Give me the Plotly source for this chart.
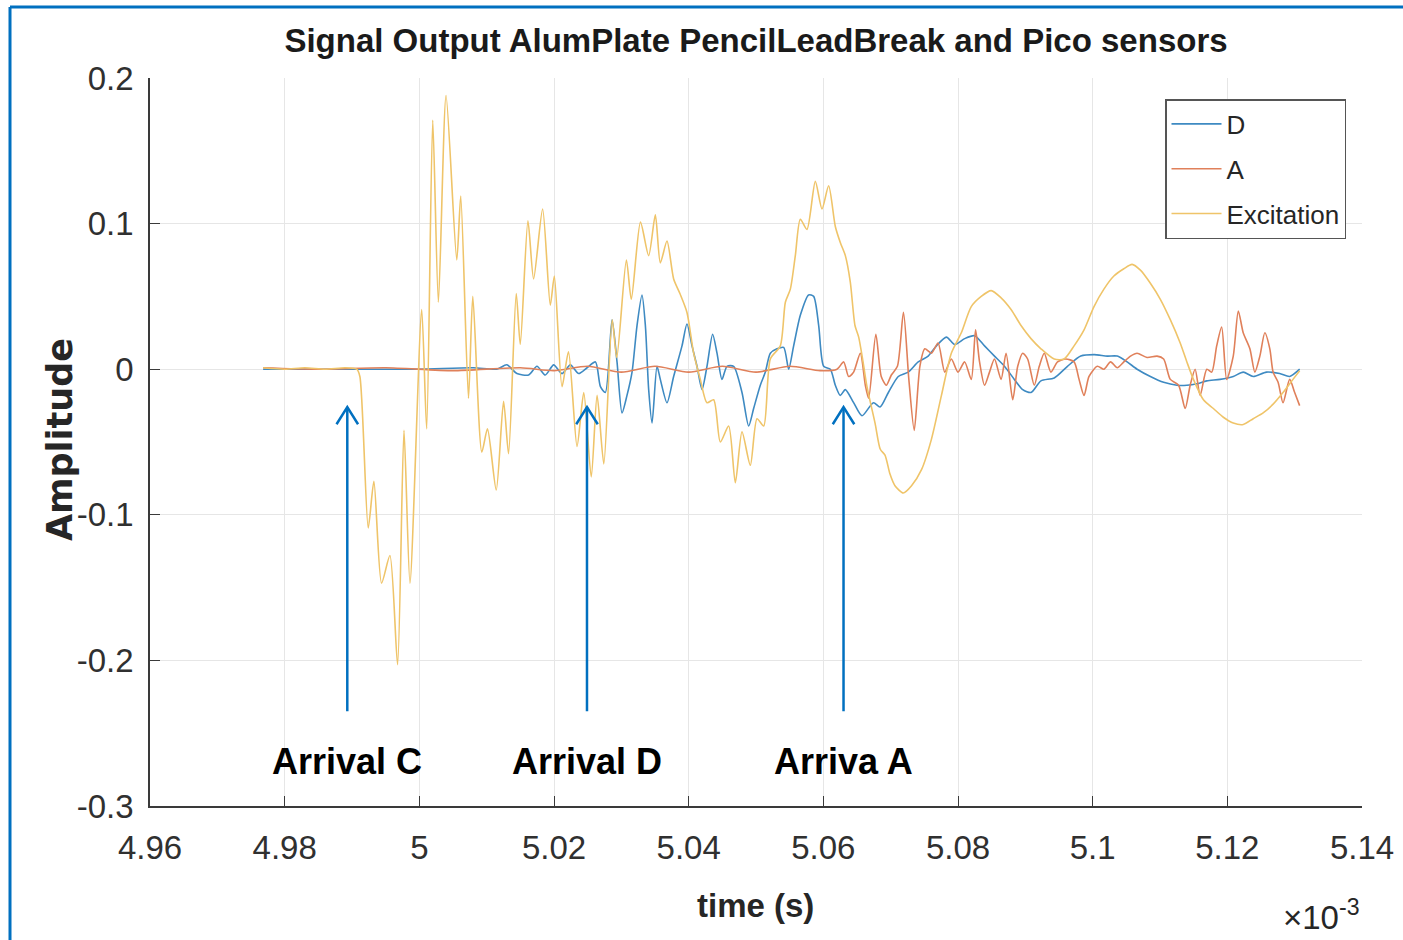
import plotly.graph_objects as go

# ---- signal data (time in units of 1e-3 s) ----
exc_t = [4.9768, 4.9800, 4.9830, 4.9860, 4.9890, 4.9907, 4.99117, 4.99241, 4.99325, 4.99439,
         4.99563, 4.99677, 4.99772, 4.99861, 5.00035, 5.00109, 5.00199, 5.00283, 5.00397, 5.00556,
         5.00615, 5.00730, 5.00794, 5.00928, 5.01012, 5.01142, 5.01251, 5.01325, 5.01439, 5.01499,
         5.01613, 5.01697, 5.01831, 5.01945, 5.02005, 5.02119, 5.02215, 5.02342, 5.02442, 5.02553,
         5.02640, 5.02740, 5.02864, 5.02932, 5.03075, 5.03148, 5.03284, 5.03406, 5.03505, 5.03579,
         5.03678, 5.03777, 5.03870, 5.03975, 5.04074, 5.04173, 5.04272, 5.04371, 5.04470, 5.04594,
         5.04693, 5.04792, 5.04916, 5.05015, 5.05114, 5.05213, 5.05361, 5.05436, 5.05510, 5.05584,
         5.05658, 5.05757, 5.05881, 5.05980, 5.06079, 5.06178, 5.06252, 5.06327, 5.06400, 5.06470,
         5.06525, 5.06590, 5.06648, 5.06768, 5.06846, 5.06916, 5.06990, 5.07064, 5.07187, 5.07310,
         5.07458, 5.07606, 5.07754, 5.07901, 5.08049, 5.08197, 5.08345, 5.08493, 5.08640, 5.08788,
         5.08936, 5.09084, 5.09232, 5.09429, 5.09576, 5.09724, 5.09872, 5.10020, 5.10167, 5.10315,
         5.10463, 5.10586, 5.10709, 5.10857, 5.11005, 5.11153, 5.11300, 5.11399, 5.11497, 5.11645,
         5.11793, 5.11941, 5.12088, 5.12236, 5.12384, 5.12532, 5.12680, 5.12827, 5.12975, 5.13074]
exc_v = [0.001, 0.000, 0.001, 0.000, 0.001, 0.000, -0.005, -0.109, -0.077, -0.147,
         -0.128, -0.203, -0.042, -0.147, 0.041, -0.041, 0.171, 0.046, 0.188, 0.075,
         0.119, -0.020, 0.050, -0.057, -0.041, -0.083, -0.022, -0.058, 0.052, 0.017,
         0.102, 0.062, 0.110, 0.044, 0.064, -0.012, 0.012, -0.053, -0.016, -0.074,
         -0.018, -0.065, 0.034, 0.008, 0.075, 0.048, 0.101, 0.078, 0.106, 0.073,
         0.088, 0.062, 0.052, 0.039, 0.011, -0.007, -0.023, -0.021, -0.050, -0.039,
         -0.078, -0.043, -0.066, -0.034, -0.039, 0.007, 0.016, 0.046, 0.055, 0.078,
         0.103, 0.096, 0.129, 0.110, 0.126, 0.098, 0.087, 0.078, 0.060, 0.030,
         0.022, 0.005, -0.012, -0.037, -0.055, -0.059, -0.072, -0.080, -0.085, -0.080,
         -0.069, -0.048, -0.018, 0.011, 0.025, 0.043, 0.050, 0.054, 0.049, 0.041,
         0.030, 0.021, 0.014, 0.007, 0.007, 0.016, 0.027, 0.043, 0.055, 0.064,
         0.069, 0.072, 0.068, 0.059, 0.048, 0.034, 0.018, 0.005, -0.007, -0.021,
         -0.027, -0.033, -0.037, -0.038, -0.034, -0.030, -0.024, -0.016, -0.007, -0.001]

d_t = [4.9768, 4.9900, 5.0000, 5.0080, 5.0115, 5.0130, 5.01449, 5.01623, 5.01747, 5.01871,
       5.01995, 5.02119, 5.02243, 5.02367, 5.02491, 5.02616, 5.02690, 5.02763, 5.02862, 5.02936,
       5.03010, 5.03084, 5.03159, 5.03233, 5.03307, 5.03357, 5.03406, 5.03456, 5.03530, 5.03579,
       5.03678, 5.03777, 5.03901, 5.03975, 5.04050, 5.04124, 5.04198, 5.04272, 5.04356, 5.04421,
       5.04495, 5.04569, 5.04668, 5.04792, 5.04891, 5.04965, 5.05064, 5.05139, 5.05213, 5.05312,
       5.05411, 5.05485, 5.05559, 5.05658, 5.05782, 5.05856, 5.05931, 5.06005, 5.06104, 5.06178,
       5.06252, 5.06327, 5.06450, 5.06574, 5.06744, 5.06842, 5.06966, 5.07113, 5.07261, 5.07409,
       5.07557, 5.07680, 5.07828, 5.07951, 5.08099, 5.08246, 5.08394, 5.08542, 5.08690, 5.08837,
       5.08961, 5.09084, 5.09232, 5.09429, 5.09626, 5.09823, 5.10020, 5.10217, 5.10365, 5.10512,
       5.10660, 5.10857, 5.11054, 5.11251, 5.11399, 5.11547, 5.11695, 5.11892, 5.12088, 5.12236,
       5.12384, 5.12581, 5.12778, 5.12926, 5.13074]
d_v = [0.000, 0.000, 0.000, 0.001, 0.000, 0.003, -0.003, -0.004, 0.002, -0.004,
       0.003, -0.003, 0.003, -0.003, 0.001, 0.005, -0.012, -0.016, 0.034, 0.005,
       -0.030, -0.018, -0.002, 0.030, 0.051, 0.030, -0.014, -0.037, 0.002, -0.007,
       -0.023, -0.005, 0.016, 0.031, 0.016, 0.002, -0.014, 0.002, 0.024, 0.011,
       -0.007, 0.002, 0.002, -0.016, -0.039, -0.027, -0.011, -0.002, 0.011, 0.014,
       0.015, 0.000, 0.016, 0.037, 0.051, 0.050, 0.030, 0.002, 0.000, -0.011,
       -0.018, -0.014, -0.023, -0.032, -0.023, -0.026, -0.016, -0.005, -0.002, 0.005,
       0.009, 0.016, 0.022, 0.017, 0.021, 0.023, 0.016, 0.009, 0.002, -0.007,
       -0.014, -0.016, -0.008, -0.006, 0.002, 0.009, 0.010, 0.009, 0.009, 0.005,
       0.000, -0.005, -0.009, -0.011, -0.011, -0.010, -0.008, -0.007, -0.005, -0.002,
       -0.005, -0.002, -0.003, -0.005, 0.000]

a_t = [4.9768, 4.9850, 4.9950, 5.0050, 5.0150, 5.0200, 5.0250, 5.0300, 5.0350, 5.0400,
       5.0450, 5.0500, 5.0550, 5.0595, 5.06203, 5.06302, 5.06376, 5.06450, 5.06549, 5.06624,
       5.06673, 5.06780, 5.06860, 5.06935, 5.07010, 5.07100, 5.07190, 5.07270, 5.07350, 5.07434,
       5.07507, 5.07606, 5.07704, 5.07803, 5.07901, 5.08000, 5.08099, 5.08197, 5.08261, 5.08320,
       5.08394, 5.08468, 5.08542, 5.08640, 5.08714, 5.08813, 5.08887, 5.08961, 5.09034, 5.09133,
       5.09207, 5.09281, 5.09380, 5.09478, 5.09601, 5.09724, 5.09798, 5.09872, 5.09946, 5.10069,
       5.10167, 5.10266, 5.10365, 5.10463, 5.10562, 5.10660, 5.10808, 5.10956, 5.11054, 5.11153,
       5.11276, 5.11374, 5.11448, 5.11522, 5.11596, 5.11695, 5.11768, 5.11842, 5.11916, 5.11990,
       5.12088, 5.12163, 5.12236, 5.12335, 5.12409, 5.12483, 5.12557, 5.12631, 5.12680, 5.12754,
       5.12827, 5.12926, 5.13000, 5.13074]
a_v = [0.001, 0.000, 0.001, -0.001, 0.001, -0.001, 0.002, -0.002, 0.002, -0.002,
       0.002, -0.002, 0.002, -0.001, 0.000, 0.005, -0.005, -0.002, 0.011, -0.011,
       -0.020, 0.024, -0.005, -0.011, -0.004, 0.002, 0.039, -0.007, -0.042, 0.002,
       0.014, 0.011, 0.018, -0.002, 0.007, -0.002, 0.005, -0.007, 0.027, 0.005,
       -0.011, -0.002, 0.007, -0.007, 0.011, -0.021, 0.002, 0.011, 0.007, -0.011,
       0.002, 0.011, -0.002, 0.005, 0.007, 0.005, -0.007, -0.018, -0.005, 0.002,
       0.000, 0.005, 0.001, 0.005, 0.009, 0.011, 0.008, 0.009, 0.007, -0.007,
       -0.011, -0.027, -0.011, 0.000, -0.018, 0.000, -0.002, 0.016, 0.029, -0.007,
       0.009, 0.040, 0.025, 0.014, -0.002, 0.009, 0.025, 0.014, -0.002, -0.009,
       -0.023, -0.007, -0.016, -0.025]

series_names = ["D", "A", "Excitation"]
series_colors = ["#3E8AC2", "#E0805A", "#EFC469"]

x_ticks = [4.96, 4.98, 5.00, 5.02, 5.04, 5.06, 5.08, 5.10, 5.12, 5.14]
x_tick_text = ["4.96", "4.98", "5", "5.02", "5.04", "5.06", "5.08", "5.1", "5.12", "5.14"]
y_ticks = [-0.3, -0.2, -0.1, 0.0, 0.1, 0.2]
y_tick_text = ["-0.3", "-0.2", "-0.1", "0", "0.1", "0.2"]

arrival_t = [4.9893, 5.0249, 5.0630]
arrival_labels = ["Arrival C", "Arrival D", "Arriva A"]
arrow_tip, arrow_tail, label_y = -0.0261, -0.2349, -0.2692

SANS = "Liberation Sans, Arial, sans-serif"
AX = "#3a3a3a"
TXT = "#262626"
ARROW_BLUE = "#0070C0"

fig = go.Figure()
for name, tt, vv, col in zip(series_names, [d_t, a_t, exc_t], [d_v, a_v, exc_v], series_colors):
    fig.add_trace(go.Scatter(x=tt, y=vv, mode="lines", name=name, legendgroup=name,
                             line=dict(color=col, width=1.6, shape="spline", smoothing=0.7)))

shapes = []
annotations = []
# arrival markers: shaft + open chevron head
dx, dy = 0.0016, 0.0117
for t, lab in zip(arrival_t, arrival_labels):
    shapes.append(dict(type="line", xref="x", yref="y", x0=t, x1=t, y0=arrow_tail, y1=arrow_tip,
                       line=dict(color=ARROW_BLUE, width=2.5)))
    shapes.append(dict(type="path", xref="x", yref="y",
                       path=f"M {t-dx},{arrow_tip-dy} L {t},{arrow_tip} L {t+dx},{arrow_tip-dy}",
                       line=dict(color=ARROW_BLUE, width=2.5)))
    annotations.append(dict(x=t, y=label_y, xref="x", yref="y", text=lab, showarrow=False,
                            xanchor="center", yanchor="middle",
                            font=dict(family=SANS, size=36, color="black", weight="bold")))

# outer blue frame (left and top edges)
W, H = 1403, 940
ML, MR, MT, MB = 150, 41, 78, 134
pw, ph = W - ML - MR, H - MT - MB
def px_x(p):
    return (p - ML) / pw
def px_y(p):
    return (H - MB - p) / ph
shapes.append(dict(type="line", xref="paper", yref="paper", x0=px_x(10), x1=px_x(10),
                   y0=px_y(960), y1=px_y(7), line=dict(color=ARROW_BLUE, width=3)))
shapes.append(dict(type="line", xref="paper", yref="paper", x0=px_x(10), x1=px_x(1420),
                   y0=px_y(7), y1=px_y(7), line=dict(color=ARROW_BLUE, width=3)))

annotations.append(dict(x=px_x(60), y=px_y(440), xref="paper", yref="paper", text="Amplitude",
                        textangle=-90, showarrow=False, xanchor="center", yanchor="middle",
                        font=dict(family="DejaVu Sans, sans-serif", size=35, color=TXT,
                                  weight="bold")))
annotations.append(dict(x=px_x(755), y=px_y(905), xref="paper", yref="paper", text="time (s)",
                        showarrow=False, xanchor="center", yanchor="middle",
                        font=dict(family=SANS, size=33, color=TXT, weight="bold")))
annotations.append(dict(x=px_x(1362), y=px_y(915), xref="paper", yref="paper",
                        text="×10<sup>-3</sup>", showarrow=False, xanchor="right", yanchor="middle",
                        font=dict(family=SANS, size=33, color=TXT)))

axis_common = dict(showgrid=True, gridcolor="#E6E6E6", gridwidth=1, zeroline=False,
                   showline=True, linecolor=AX, linewidth=1.5, mirror=False,
                   ticks="inside", ticklen=10, tickwidth=1.3, tickcolor=AX,
                   tickfont=dict(family=SANS, size=33, color="#303030"), automargin=False)

fig.update_layout(
    width=W, height=H,
    margin=dict(l=ML, r=MR, t=MT, b=MB),
    paper_bgcolor="white", plot_bgcolor="white",
    title=dict(text="Signal Output AlumPlate PencilLeadBreak and Pico sensors",
               x=0.5, xref="paper", xanchor="center", y=1 - 40 / H, yref="container",
               yanchor="middle", font=dict(family=SANS, size=33, color="#1a1a1a", weight="bold")),
    xaxis=dict(range=[4.96, 5.14], tickvals=x_ticks, ticktext=x_tick_text,
               ticklabelstandoff=12, **axis_common),
    yaxis=dict(range=[-0.3, 0.2], tickvals=y_ticks, ticktext=y_tick_text,
               ticklabelstandoff=8, **axis_common),
    legend=dict(x=px_x(1165), y=px_y(99), xanchor="left", yanchor="top",
                bgcolor="white", bordercolor="#555555", borderwidth=1.5,
                font=dict(family=SANS, size=26, color=TXT),
                itemwidth=50, tracegroupgap=8),
    shapes=shapes, annotations=annotations, showlegend=True,
)

fig.write_html("out.html", config={"displayModeBar": False})
